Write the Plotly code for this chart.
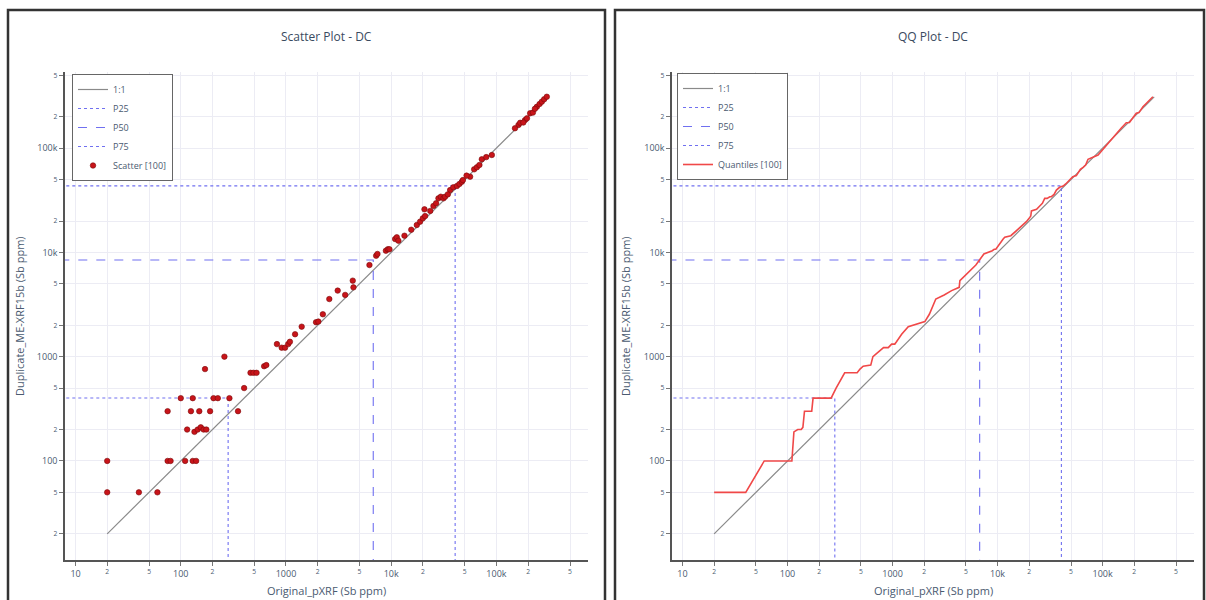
import plotly.graph_objects as go

# ---------------- data ----------------
orig_x = [20, 20, 40, 60, 75, 80, 110, 130, 140,
          115, 135, 145, 155, 165, 175,
          75, 125, 150, 190, 350,
          100, 130, 205, 225, 290,
          170, 260, 400,
          460, 490, 525,
          620, 650, 820,
          910, 980, 1050, 1090,
          1220, 1410, 1930, 2030,
          2240, 2580, 3100, 3650,
          4310, 4375, 6210,
          7190, 7400, 8900, 9290, 9620,
          10890, 11300, 11700, 13360,
          17500, 18800, 19960, 21000, 20700,
          25200, 26700, 28100, 29600, 31400, 32500,
          36300, 38900, 42100, 44500, 46900, 48000,
          56200, 61400, 65200, 68900, 72600, 90400,
          162000, 168000, 187000, 195000, 209000, 222000,
          242000, 257000, 270000, 284000, 301000,
          15500, 23500, 34500, 52000, 80000, 150000, 180000, 232000]
dup_y = [100, 50, 50, 50, 100, 100, 100, 100, 100,
         200, 190, 200, 210, 200, 200,
         300, 300, 300, 300, 300,
         400, 400, 400, 400, 400,
         760, 1000, 500,
         700, 700, 700,
         810, 830, 1320,
         1220, 1220, 1320, 1390,
         1640, 1940, 2140, 2170,
         2550, 3570, 4300, 3910,
         5360, 4620, 7570,
         9290, 9660, 10380, 10720, 10720,
         13430, 13960, 12950, 14450,
         18300, 19700, 21200, 22300, 25900,
         27900, 29600, 33000, 34200, 33000, 34200,
         39600, 42100, 43300, 45300, 47600, 49400,
         53200, 62600, 65500, 68900, 78200, 85900,
         167000, 175000, 186000, 193000, 216000, 219000,
         249000, 265000, 279000, 294000, 311000,
         16500, 25000, 36000, 54500, 82000, 155000, 176000, 238000]

one_to_one = [20, 310000]

pct_names = ["P25", "P50", "P75"]
pct_x = [282, 6750, 40500]
pct_y = [402, 8450, 43400]
pct_dash = ["dot", "dash", "dot"]

# QQ: sorted originals vs sorted duplicates
qq_x = sorted(orig_x)
qq_y = sorted(dup_y)

# ---------------- styling ----------------
W, H = 1206, 600
FONT = "Open Sans"
TXT = "#4a5a70"
GRID = "#ececf4"
PCOL = "#7070f0"
XR = [0.90, 5.87]
YR = [1.05, 5.73]

fig = go.Figure()

panels = [("x", "y", "legend", "markers"), ("x2", "y2", "legend2", "lines")]
for xa, ya, lg, mode in panels:
    fig.add_trace(go.Scatter(x=one_to_one, y=one_to_one, mode="lines", name="1:1",
                             line=dict(color="#8a8a8a", width=1.2),
                             xaxis=xa, yaxis=ya, legend=lg, hoverinfo="skip"))
    for n, px, py, d in zip(pct_names, pct_x, pct_y, pct_dash):
        fig.add_trace(go.Scatter(x=[1, px, px], y=[py, py, 1], mode="lines", name=n,
                                 line=dict(color=PCOL, width=1.1, dash=d),
                                 xaxis=xa, yaxis=ya, legend=lg))
    if mode == "markers":
        fig.add_trace(go.Scatter(x=orig_x, y=dup_y, mode="markers",
                                 name="Scatter [%d]" % len(orig_x),
                                 marker=dict(color="#c8141a", size=5.5,
                                             line=dict(color="#7a0a0a", width=0.6)),
                                 xaxis=xa, yaxis=ya, legend=lg))
    else:
        fig.add_trace(go.Scatter(x=qq_x, y=qq_y, mode="lines",
                                 name="Quantiles [%d]" % len(qq_x),
                                 line=dict(color="#f04848", width=1.6),
                                 xaxis=xa, yaxis=ya, legend=lg))

axis_common = dict(type="log", dtick="D2", showgrid=True, gridcolor=GRID, gridwidth=1,
                   showline=True, linecolor="#555555", linewidth=1.5,
                   ticks="outside", ticklen=4, tickcolor="#777777",
                   tickfont=dict(family=FONT, size=9, color=TXT),
                   zeroline=False, mirror=False)

xl = [65 / W, 588 / W]
xr = [672 / W, 1194 / W]
yd = [1 - 560 / H, 1 - 72 / H]

leg_common = dict(xanchor="left", yanchor="top",
                  bgcolor="white", bordercolor="#666666", borderwidth=1,
                  font=dict(family=FONT, size=9, color=TXT),
                  itemwidth=30, tracegroupgap=0)

fig.update_layout(
    width=W, height=H,
    margin=dict(l=0, r=0, t=0, b=0),
    paper_bgcolor="white", plot_bgcolor="white",
    font=dict(family=FONT, color=TXT),
    xaxis=dict(axis_common, domain=xl, range=XR, anchor="y"),
    yaxis=dict(axis_common, domain=yd, range=YR, anchor="x"),
    xaxis2=dict(axis_common, domain=xr, range=XR, anchor="y2"),
    yaxis2=dict(axis_common, domain=yd, range=YR, anchor="x2"),
    legend=dict(leg_common, x=72 / W, y=1 - 74 / H),
    legend2=dict(leg_common, x=677 / W, y=1 - 73 / H),
    showlegend=True,
)

# panel borders
for x0, x1 in [(8, 605), (615, 1204)]:
    fig.add_shape(type="rect", xref="paper", yref="paper",
                  x0=x0 / W, x1=x1 / W, y0=-0.05, y1=1 - 10 / H,
                  line=dict(color="#333333", width=2.5), fillcolor="rgba(0,0,0,0)",
                  layer="above")

# titles and axis titles
ann = []
for cx, title, ytx in [((65 + 588) / 2, "Scatter Plot - DC", 20), ((672 + 1194) / 2, "QQ Plot - DC", 626)]:
    ann.append(dict(text=title, x=cx / W, y=1 - 37 / H, xref="paper", yref="paper",
                    showarrow=False, xanchor="center", yanchor="middle",
                    font=dict(family=FONT, size=12, color="#3a4a60")))
    ann.append(dict(text="Original_pXRF (Sb ppm)", x=cx / W, y=1 - 590 / H,
                    xref="paper", yref="paper", showarrow=False,
                    xanchor="center", yanchor="middle",
                    font=dict(family=FONT, size=11, color=TXT)))
    ann.append(dict(text="Duplicate_ME-XRF15b (Sb ppm)", x=ytx / W, y=1 - 316 / H,
                    xref="paper", yref="paper", showarrow=False, textangle=-90,
                    xanchor="center", yanchor="middle",
                    font=dict(family=FONT, size=11, color=TXT)))
fig.update_layout(annotations=ann)

fig.write_html("out.html",
               config={"displayModeBar": False},
               post_script="document.body.style.margin='0';document.body.style.overflow='hidden';")
